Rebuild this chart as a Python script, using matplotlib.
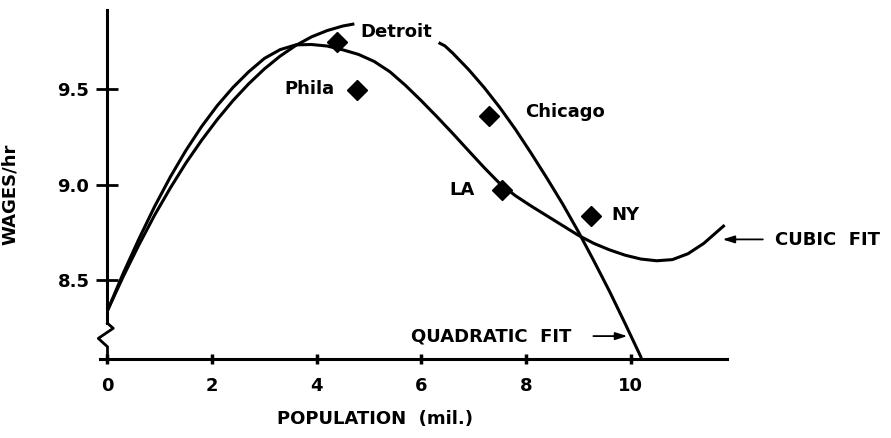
import matplotlib
matplotlib.use("Agg")
import matplotlib.pyplot as plt

plt.rcParams["font.family"] = ["DejaVu Sans"]
plt.rcParams["font.weight"] = "bold"
plt.rcParams["axes.labelweight"] = "bold"

# city data points (population in millions, wages per hour)
cities = ["Detroit", "Phila", "Chicago", "LA", "NY"]
pop = [4.39, 4.78, 7.29, 7.54, 9.24]
wage = [9.746, 9.496, 9.362, 8.972, 8.836]
label_x = [5.52, 3.86, 8.75, 6.77, 9.91]
label_y = [9.800, 9.503, 9.383, 8.972, 8.839]

# cubic fit curve
cubic_x = [0, 0.3, 0.6, 0.9, 1.2, 1.5, 1.8, 2.1, 2.4, 2.7, 3.0, 3.3, 3.6, 3.9,
           4.2, 4.5, 4.8, 5.1, 5.4, 5.7, 6.0, 6.3, 6.6, 6.9, 7.2, 7.5, 7.8,
           8.1, 8.4, 8.7, 9.0, 9.3, 9.6, 9.9, 10.2, 10.5, 10.8, 11.1, 11.4, 11.8]
cubic_y = [8.34, 8.535, 8.715, 8.885, 9.04, 9.18, 9.305, 9.415, 9.51, 9.592,
           9.662, 9.708, 9.733, 9.735, 9.727, 9.707, 9.683, 9.646, 9.592, 9.52,
           9.44, 9.356, 9.269, 9.179, 9.09, 9.006, 8.942, 8.888, 8.837, 8.786,
           8.735, 8.692, 8.658, 8.63, 8.61, 8.601, 8.607, 8.638, 8.692, 8.788]

# quadratic fit curve, broken around the Detroit label
quad_x1 = [0, 0.3, 0.6, 0.9, 1.2, 1.5, 1.8, 2.1, 2.4, 2.7, 3.0, 3.3, 3.6, 3.9,
           4.2, 4.5, 4.72]
quad_y1 = [8.34, 8.518, 8.684, 8.84, 8.982, 9.114, 9.233, 9.342, 9.441, 9.529,
           9.607, 9.674, 9.73, 9.775, 9.808, 9.832, 9.843]
quad_x2 = [6.33, 6.45, 6.6, 6.9, 7.2, 7.5, 7.8, 8.1, 8.4, 8.7, 9.0, 9.3, 9.6,
           9.9, 10.21]
quad_y2 = [9.745, 9.728, 9.69, 9.605, 9.51, 9.405, 9.29, 9.165, 9.035, 8.90,
           8.755, 8.60, 8.44, 8.27, 8.09]

x_ticks = [0, 2, 4, 6, 8, 10]
y_ticks = [8.5, 9.0, 9.5]
y_tick_labels = ["8.5", "9.0", "9.5"]

fig = plt.figure(figsize=(8.91, 4.38), dpi=100)
ax = fig.add_axes([0.10891, 0.18128, 0.71612, 0.81073])
ax.set_xlim(-0.2, 12.0)
ax.set_ylim(8.088, 9.95)

lw = 2.2
ax.plot(cubic_x, cubic_y, color="black", lw=lw, solid_capstyle="butt",
        solid_joinstyle="round")
ax.plot(quad_x1, quad_y1, color="black", lw=lw, solid_capstyle="butt",
        solid_joinstyle="round")
ax.plot(quad_x2, quad_y2, color="black", lw=lw, solid_capstyle="butt",
        solid_joinstyle="round")
ax.plot(pop, wage, "D", color="black", ms=10.5, clip_on=False)

for name, tx, ty in zip(cities, label_x, label_y):
    ax.text(tx, ty, name, ha="center", va="center", fontsize=13)

# axes: y axis with a break near the bottom
for s in ["top", "right"]:
    ax.spines[s].set_visible(False)
ax.spines["left"].set_position(("data", 0))
ax.spines["left"].set_bounds(8.273, 9.916)
ax.spines["bottom"].set_bounds(-0.14, 11.84)
for s in ["left", "bottom"]:
    ax.spines[s].set_linewidth(2.2)
ax.plot([0, 0.11, -0.176, 0, 0], [8.273, 8.247, 8.194, 8.150, 8.088],
        color="black", lw=2.0, clip_on=False)

ax.set_xticks(x_ticks)
ax.set_yticks(y_ticks)
ax.set_yticklabels(y_tick_labels)
ax.tick_params(axis="y", direction="inout", length=16, width=2, pad=5,
               labelsize=13)
ax.tick_params(axis="x", direction="inout", length=7, width=2.5, pad=10,
               labelsize=13)

ax.set_ylabel("WAGES/hr", fontsize=13)
ax.yaxis.set_label_coords(-0.1223, 0.4635)
ax.set_xlabel("POPULATION  (mil.)", fontsize=13)
ax.xaxis.set_label_coords(0.4356, -0.1447)

arrow = dict(arrowstyle="-|>,head_length=0.7,head_width=0.22", color="black",
             lw=1.3, shrinkA=0, shrinkB=0)
ax.annotate("", xy=(11.76, 8.713), xytext=(12.53, 8.713),
            arrowprops=arrow, annotation_clip=False)
ax.text(13.76, 8.710, "CUBIC  FIT", ha="center", va="center", fontsize=13,
        clip_on=False)
ax.annotate("", xy=(9.94, 8.206), xytext=(9.29, 8.206),
            arrowprops=arrow, annotation_clip=False)
ax.text(7.33, 8.203, "QUADRATIC  FIT", ha="center", va="center", fontsize=13)

fig.savefig("out.png", dpi=100)
